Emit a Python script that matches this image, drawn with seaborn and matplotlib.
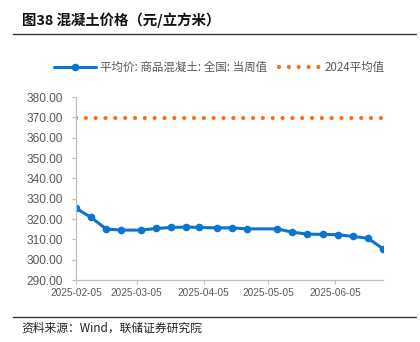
import matplotlib
matplotlib.use("Agg")
import matplotlib.pyplot as plt
import matplotlib.dates as mdates
from matplotlib.lines import Line2D
import pandas as pd
import seaborn as sns

sns.set_theme(style="white")
plt.rcParams["font.family"] = ["Noto Sans CJK SC", "DejaVu Sans"]

# Weekly national ready-mixed concrete price (yuan / m3)
dates = ["2025-02-05", "2025-02-12", "2025-02-19", "2025-02-26", "2025-03-07",
         "2025-03-14", "2025-03-21", "2025-03-28", "2025-04-03", "2025-04-11",
         "2025-04-18", "2025-04-25", "2025-05-09", "2025-05-16", "2025-05-23",
         "2025-05-30", "2025-06-06", "2025-06-13", "2025-06-20", "2025-06-27"]
weekly_price = [325.3, 320.8, 315.1, 314.6, 314.6, 315.4, 315.9, 316.1, 315.9, 315.7,
                315.7, 315.2, 315.2, 313.6, 312.6, 312.5, 312.3, 311.5, 310.6, 305.4]
avg_2024 = 369.5
label_weekly = "平均价: 商品混凝土: 全国: 当周值"
label_avg = "2024平均值"
y_ticks = [290, 300, 310, 320, 330, 340, 350, 360, 370, 380]
x_ticks = ["2025-02-05", "2025-03-05", "2025-04-05", "2025-05-05", "2025-06-05"]

df = pd.DataFrame({"date": pd.to_datetime(dates), "price": weekly_price})
df["avg"] = avg_2024

blue = "#0A74D0"
orange = "#FF6A0E"
grey = "#595959"
dot_style = (0, (0.01, 2.35))

fig = plt.figure(figsize=(4.2, 3.42), dpi=100)
ax = fig.add_axes([0.181, 0.181, 0.731, 0.535])

sns.lineplot(data=df, x="date", y="avg", ax=ax, color=orange, linestyle=dot_style,
             linewidth=3.0)
ax.lines[-1].set_dash_capstyle("round")
sns.lineplot(data=df, x="date", y="price", ax=ax, color=blue, linewidth=2.2,
             marker="o", markersize=5.5, markeredgewidth=0)

ax.set_xlim(df["date"].iloc[0], df["date"].iloc[-1])
ax.set_ylim(290, 380)
ax.set_yticks(y_ticks)
ax.set_yticklabels([f"{v:.2f}" for v in y_ticks])
ax.set_xticks(pd.to_datetime(x_ticks))
ax.xaxis.set_major_formatter(mdates.DateFormatter("%Y-%m-%d"))
ax.set_xlabel("")
ax.set_ylabel("")

for side in ["top", "right"]:
    ax.spines[side].set_visible(False)
for side in ["left", "bottom"]:
    ax.spines[side].set_color("#BFBFBF")
    ax.spines[side].set_linewidth(0.9)
ax.tick_params(axis="y", labelsize=8.6, colors=grey, length=3, width=0.8, color="#BFBFBF",
               direction="out", pad=6.5, left=True)
ax.tick_params(axis="x", labelsize=7.2, colors=grey, length=3, width=0.8, color="#BFBFBF",
               direction="out", pad=2.5, bottom=True)
for lbl in ax.get_yticklabels() + ax.get_xticklabels():
    lbl.set_family(["Liberation Sans"])

h_weekly = Line2D([0, 0.5, 1], [0, 0, 0], color=blue, linewidth=2.2, marker="o",
                  markersize=5.5, markeredgewidth=0, markevery=[1])
h_avg = Line2D([], [], color=orange, linestyle=dot_style, linewidth=3.0,
               dash_capstyle="round")
fig.legend([h_weekly, h_avg], [label_weekly, label_avg], loc="center left",
           bbox_to_anchor=(0.105, 0.803), ncol=2, frameon=False, fontsize=8.3,
           handlelength=3.6, columnspacing=1.0, handletextpad=0.35, labelcolor=grey)

fig.text(0.052, 0.942, "图38 混凝土价格（元/立方米）", fontsize=10.4, fontweight="bold",
         color="#111111", va="center", ha="left")
fig.add_artist(Line2D([0.03, 0.99], [0.9, 0.9], color="#333333", linewidth=1.0,
                      transform=fig.transFigure))
fig.add_artist(Line2D([0.03, 0.99], [0.073, 0.073], color="#333333", linewidth=1.0,
                      transform=fig.transFigure))
fig.text(0.052, 0.04, "资料来源：Wind，联储证券研究院", fontsize=8.5, color="#222222",
         va="center", ha="left")

fig.savefig("out.png", dpi=100)
